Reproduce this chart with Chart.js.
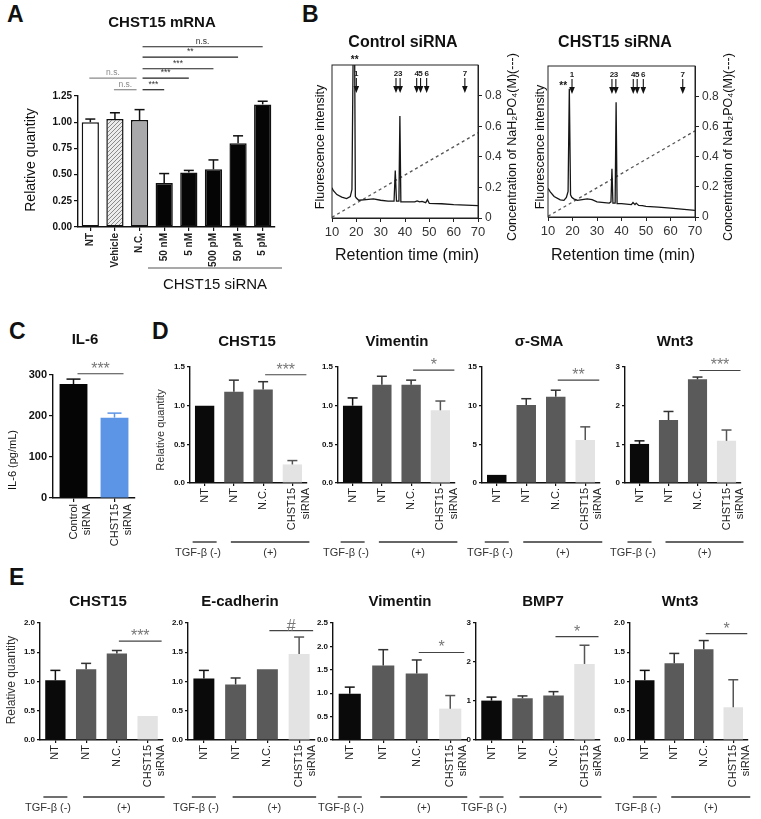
<!DOCTYPE html>
<html>
<head>
<meta charset="utf-8">
<script src="https://cdn.jsdelivr.net/npm/chart.js@4.4.1/dist/chart.umd.min.js"></script>
<style>
  body { margin: 0; background: #fff; width: 761px; height: 819px; position: relative; overflow: hidden; font-family: "Liberation Sans", Arial, sans-serif; }
  canvas { position: absolute; }
  .lt { position: absolute; font-weight: bold; font-size: 23px; color: #111; }
</style>
</head>
<body>
<div class="lt" style="left:7px;top:1px">A</div>
<div class="lt" style="left:302px;top:1px">B</div>
<div class="lt" style="left:9px;top:318px">C</div>
<div class="lt" style="left:152px;top:318px">D</div>
<div class="lt" style="left:9px;top:564px">E</div>
<script>
// ---- panel A : CHST15 mRNA
const aLabels = ['NT', 'Vehicle', 'N.C.', '50 nM', '5 nM', '500 pM', '50 pM', '5 pM'];
const aValues = [1.00, 1.03, 1.02, 0.42, 0.52, 0.55, 0.80, 1.17];
const aErrors = [0.03, 0.06, 0.10, 0.09, 0.02, 0.09, 0.07, 0.03];
const aTicks = [0, 0.25, 0.5, 0.75, 1.0, 1.25];
// [from, to, level, text]
const aBrackets = [[0, 2, 1.42, 'n.s.'], [1, 2, 1.31, 'n.s.'], [2, 3, 1.31, '***'], [2, 4, 1.42, '***'],
                   [2, 5, 1.51, '***'], [2, 6, 1.62, '**'], [2, 7, 1.72, 'n.s.']];

// ---- panel B : chromatograms
const rtTicks = [10, 20, 30, 40, 50, 60, 70];
const concTicks = [0, 0.2, 0.4, 0.6, 0.8];
const ctrlTime = [10, 10.5, 12, 14, 16, 17.5, 18.2, 18.7, 19.3, 19.6, 20, 21, 24, 27, 30, 33, 35.5, 36, 36.5, 37.5, 37.9, 38.3, 40, 44, 45, 46, 47, 48.5, 49.2, 50, 55, 60, 70];
const ctrlSignal = [0.197, 0.18, 0.153, 0.136, 0.127, 0.14, 0.186, 1.1, 1.1, 0.14, 0.13, 0.116, 0.12, 0.125, 0.116, 0.11, 0.11, 0.31, 0.11, 0.11, 0.667, 0.105, 0.105, 0.105, 0.112, 0.105, 0.108, 0.1, 0.12, 0.095, 0.093, 0.087, 0.081];
const siTime = [10, 11, 12.5, 15, 16.5, 17.5, 18.2, 18.7, 19.2, 19.7, 20.5, 22, 26, 28, 30, 35, 35.7, 36.1, 36.5, 37.4, 37.8, 38.2, 40, 44, 44.7, 45.5, 46, 47, 48.5, 50, 55, 60, 70];
const siSignal = [0.19, 0.165, 0.136, 0.114, 0.11, 0.13, 0.17, 0.85, 0.147, 0.13, 0.12, 0.11, 0.12, 0.115, 0.1, 0.092, 0.1, 0.32, 0.092, 0.092, 0.76, 0.088, 0.088, 0.082, 0.096, 0.082, 0.092, 0.077, 0.075, 0.07, 0.066, 0.059, 0.044];
const gradTime = [10, 70];
const ctrlGrad = [0.005, 0.557];
const siGrad = [0.005, 0.57];
const arrowLabels = ['1', '2', '3', '4', '5', '6', '7'];
const ctrlArrows = [20, 36.3, 38, 44.8, 46.4, 48.9, 64.6];
const siArrows = [19.8, 36.1, 37.7, 44.8, 46.4, 48.9, 65];

// ---- panel C : IL-6
const cLabels = [['Control', 'siRNA'], ['CHST15', 'siRNA']];
const cValues = [278, 196];
const cErrors = [12, 11];
const cTicks = [0, 100, 200, 300];

// ---- panels D and E
const grpLabels = ['NT', 'NT', 'N.C.', ['CHST15', 'siRNA']];
const dChst = [1.0, 1.18, 1.21, 0.24], dChstErr = [0, 0.15, 0.10, 0.05];
const dVim = [1.0, 1.27, 1.27, 0.94], dVimErr = [0.10, 0.11, 0.06, 0.12];
const dSma = [1.05, 10.1, 11.15, 5.56], dSmaErr = [0, 0.8, 0.85, 1.7];
const dWnt = [1.01, 1.63, 2.68, 1.09], dWntErr = [0.08, 0.22, 0.06, 0.28];
const eChst = [1.02, 1.21, 1.48, 0.41], eChstErr = [0.17, 0.10, 0.05, 0];
const eEcad = [1.05, 0.95, 1.21, 1.47], eEcadErr = [0.14, 0.11, 0, 0.29];
const eVim = [0.99, 1.59, 1.42, 0.67], eVimErr = [0.14, 0.34, 0.29, 0.28];
const eBmp = [1.01, 1.07, 1.14, 1.95], eBmpErr = [0.09, 0.06, 0.10, 0.48];
const eWnt = [1.02, 1.31, 1.55, 0.56], eWntErr = [0.17, 0.17, 0.15, 0.47];
const ticks15 = [0, 0.5, 1.0, 1.5], ticks15b = [0, 5, 10, 15], ticks3 = [0, 1, 2, 3];
const ticks20 = [0, 0.5, 1.0, 1.5, 2.0], ticks25 = [0, 0.5, 1.0, 1.5, 2.0, 2.5];

const FF = '"Liberation Sans", Arial, sans-serif';
Chart.defaults.font.family = FF;
Chart.defaults.color = '#222';

function addCanvas(plot, m) {
  const cv = document.createElement('canvas');
  cv.width = plot.r - plot.l + m.l + m.r;
  cv.height = plot.b - plot.t + m.t + m.b;
  cv.style.left = (plot.l - m.l) + 'px';
  cv.style.top = (plot.t - m.t) + 'px';
  document.body.appendChild(cv);
  return cv;
}
function noPad(s) { s.paddingLeft = s.paddingRight = s.paddingTop = s.paddingBottom = 0; }
function fixW(w) { return s => { s.width = w; noPad(s); }; }
function fixH(h) { return s => { s.height = h; noPad(s); }; }

function hatch(ctx) {
  const p = document.createElement('canvas');
  p.width = p.height = 4;
  const c = p.getContext('2d');
  c.fillStyle = '#ececec'; c.fillRect(0, 0, 4, 4);
  c.strokeStyle = '#8a8a8a'; c.lineWidth = 1;
  c.beginPath(); c.moveTo(-1, 5); c.lineTo(5, -1); c.stroke();
  return ctx.createPattern(p, 'repeat');
}

function txt(ctx, ox, oy, t) {
  ctx.save();
  ctx.font = t.f;
  ctx.fillStyle = t.c || '#111';
  ctx.textAlign = t.al || 'center';
  ctx.textBaseline = 'middle';
  ctx.translate(t.x - ox, t.y - oy);
  if (t.rot) ctx.rotate(t.rot * Math.PI / 180);
  ctx.fillText(t.t, 0, 0);
  ctx.restore();
}
function seg(ctx, x1, y1, x2, y2) { ctx.beginPath(); ctx.moveTo(x1, y1); ctx.lineTo(x2, y2); ctx.stroke(); }

const decor = {
  id: 'decor',
  afterDatasetsDraw(chart, args, o) {
    const ctx = chart.ctx, xs = chart.scales.x, ys = chart.scales.y, ca = chart.chartArea;
    ctx.save();
    // error bars (upper only)
    (o.errors || []).forEach((e, i) => {
      if (!e) return;
      const v = chart.data.datasets[0].data[i];
      const x = xs.getPixelForValue(i);
      const y0 = ys.getPixelForValue(v), y1 = ys.getPixelForValue(v + e);
      ctx.strokeStyle = o.errColors[i];
      ctx.lineWidth = 1.5;
      seg(ctx, x, y0, x, y1);
      seg(ctx, x - o.cap, y1, x + o.cap, y1);
    });
    // significance brackets
    (o.brackets || []).forEach((b, k) => {
      const x1 = xs.getPixelForValue(b[0]) + o.bStart[k], x2 = xs.getPixelForValue(b[1]) + o.bEnd[k];
      const y = ys.getPixelForValue(b[2]);
      ctx.strokeStyle = o.bColors[k]; ctx.lineWidth = o.bWidth;
      seg(ctx, x1, y, x2, y);
      ctx.font = o.bFont; ctx.fillStyle = o.bTextColors[k];
      ctx.textAlign = 'center'; ctx.textBaseline = 'alphabetic';
      ctx.fillText(b[3], (x1 + x2) / 2, y - o.bGap);
    });
    // TGF-beta groups
    if (o.groups) {
      const g = o.groups;
      const x0 = xs.getPixelForValue(0), x1 = xs.getPixelForValue(1), x3 = xs.getPixelForValue(3);
      const ly = g.lineY - o.oy;
      ctx.strokeStyle = '#333'; ctx.lineWidth = 1.4;
      seg(ctx, x0 - 12, ly, x0 + 12, ly);
      seg(ctx, x1 - 3, ly, x3 + 17, ly);
      txt(ctx, 0, 0, { t: 'TGF-\u03b2 (-)', x: ca.left - 15, y: g.textY - o.oy, f: '11px ' + FF, al: 'left', c: '#333' });
      txt(ctx, 0, 0, { t: '(+)', x: (x1 - 3 + x3 + 17) / 2, y: g.textY - o.oy, f: '11px ' + FF, c: '#333' });
    }
    // chromatogram box and peak arrows
    if (o.box) {
      ctx.strokeStyle = '#222'; ctx.lineWidth = 1;
      ctx.strokeRect(ca.left, ca.top, ca.right - ca.left, ca.bottom - ca.top);
    }
    if (o.arrows) {
      const a = o.arrows;
      a.times.forEach((t, i) => {
        const x = xs.getPixelForValue(t);
        txt(ctx, 0, 0, { t: a.labels[i], x: x, y: ca.top + 9, f: 'bold 8px ' + FF, c: '#222' });
        ctx.strokeStyle = '#111'; ctx.lineWidth = 1.1;
        seg(ctx, x, ca.top + 13, x, ca.top + 24);
        ctx.fillStyle = '#111';
        ctx.beginPath(); ctx.moveTo(x - 2.8, ca.top + 21); ctx.lineTo(x + 2.8, ca.top + 21); ctx.lineTo(x, ca.top + 28); ctx.closePath(); ctx.fill();
      });
      txt(ctx, 0, 0, { t: '**', x: xs.getPixelForValue(a.star), y: ca.top + a.starDy, f: 'bold 10px ' + FF, c: '#111' });
    }
    (o.lines || []).forEach(l => {
      ctx.strokeStyle = l.c; ctx.lineWidth = 1.2;
      seg(ctx, l.x1 - o.ox, l.y - o.oy, l.x2 - o.ox, l.y - o.oy);
    });
    (o.texts || []).forEach(t => txt(ctx, o.ox, o.oy, t));
    ctx.restore();
  }
};

function bars(s) {
  const cv = addCanvas(s.plot, s.m);
  const ctx = cv.getContext('2d');
  const bg = s.colors.map(c => c === 'hatch' ? hatch(ctx) : c);
  const axisGrid = { display: true, drawOnChartArea: false, offset: false, tickLength: s.tickLen || 3, color: '#111', lineWidth: 1.2 };
  const d = s.decor;
  d.ox = s.plot.l - s.m.l; d.oy = s.plot.t - s.m.t;
  return new Chart(cv, {
    type: 'bar',
    data: {
      labels: s.labels,
      datasets: [{ data: s.values, backgroundColor: bg, borderColor: s.border || 'rgba(0,0,0,0)', borderWidth: s.borderWidth || 0, borderSkipped: false, barPercentage: s.barPct, categoryPercentage: 1 }]
    },
    options: {
      responsive: false, animation: false,
      layout: { padding: { top: s.m.t, right: s.m.r, left: 0, bottom: 0 } },
      scales: {
        x: {
          grid: axisGrid, border: { color: '#111', width: 1.4 },
          ticks: { autoSkip: false, minRotation: 90, maxRotation: 90, padding: 2, font: s.xFont, color: '#222' },
          afterFit: fixH(s.m.b)
        },
        y: {
          min: 0, max: s.yMax, grid: axisGrid, border: { color: '#111', width: 1.4 },
          afterBuildTicks: sc => { sc.ticks = s.yTicks.map(v => ({ value: v })); },
          ticks: { padding: 2, font: s.yFont, color: '#111', callback: v => v.toFixed(s.dec) },
          afterFit: fixW(s.m.l)
        }
      },
      plugins: { legend: { display: false }, tooltip: { enabled: false }, decor: d }
    },
    plugins: [decor]
  });
}

function chrom(s) {
  const cv = addCanvas(s.plot, s.m);
  const d = s.decor;
  d.ox = s.plot.l - s.m.l; d.oy = s.plot.t - s.m.t; d.box = true;
  const axGrid = { display: true, drawOnChartArea: false, tickLength: 4, color: '#222', lineWidth: 1 };
  return new Chart(cv, {
    type: 'line',
    data: {
      datasets: [
        { data: s.time.map((t, i) => ({ x: t, y: s.signal[i] })), yAxisID: 'y', borderColor: '#161616', borderWidth: 1.3, pointRadius: 0, tension: 0 },
        { data: gradTime.map((t, i) => ({ x: t, y: s.grad[i] })), yAxisID: 'y2', borderColor: '#555', borderWidth: 1.3, borderDash: [3, 3], pointRadius: 0, tension: 0 }
      ]
    },
    options: {
      responsive: false, animation: false,
      layout: { padding: { top: s.m.t, left: s.m.l, right: 0, bottom: 0 } },
      scales: {
        x: {
          type: 'linear', min: 10, max: 70, grid: axGrid, border: { color: '#222' },
          afterBuildTicks: sc => { sc.ticks = rtTicks.map(v => ({ value: v })); },
          ticks: { font: { size: 13 }, color: '#333', padding: 3 },
          afterFit: fixH(s.m.b)
        },
        y: { display: false, min: 0, max: 1 },
        y2: {
          position: 'right', min: 0, max: 1, grid: axGrid, border: { color: '#222' },
          afterBuildTicks: sc => { sc.ticks = concTicks.map(v => ({ value: v })); },
          ticks: { font: { size: 12 }, color: '#333', padding: 3, callback: v => v === 0 ? '0' : v.toFixed(1) },
          afterFit: fixW(s.m.r)
        }
      },
      plugins: { legend: { display: false }, tooltip: { enabled: false }, decor: d }
    },
    plugins: [decor]
  });
}

const B = w => 'bold ' + w + 'px ' + FF;
const N = w => w + 'px ' + FF;

// ---------- A
bars({
  plot: { l: 78, t: 96, r: 275, b: 227 }, m: { l: 78, t: 96, r: 12, b: 72 },
  labels: aLabels, values: aValues, yMax: 1.25, yTicks: aTicks, dec: 2,
  colors: ['#ffffff', 'hatch', '#a9a9ab', '#050505', '#050505', '#050505', '#050505', '#050505'],
  border: '#111', borderWidth: 1.5, barPct: 0.7, tickLen: 4,
  xFont: { size: 10, weight: 'bold' }, yFont: { size: 10, weight: 'bold' },
  decor: {
    errors: aErrors, errColors: aErrors.map(() => '#111'), cap: 5,
    brackets: aBrackets, bStart: [-1, -1, 3, 3, 3, 3, 3], bEnd: [-3, -3, 0, 0, 0, 0, 0],
    bColors: ['#8a8a8a', '#8a8a8a', '#222', '#222', '#222', '#222', '#222'],
    bTextColors: ['#8a8a8a', '#8a8a8a', '#333', '#333', '#333', '#333', '#333'],
    bFont: N(8.5), bWidth: 1.2, bGap: 3,
    lines: [{ x1: 148, x2: 282, y: 268, c: '#555' }],
    texts: [
      { t: 'CHST15 mRNA', x: 162, y: 23, f: B(15) },
      { t: 'Relative quantity', x: 31, y: 160, f: N(14), rot: -90 },
      { t: 'CHST15 siRNA', x: 215, y: 285, f: N(15) }
    ]
  }
});

// ---------- B
chrom({
  plot: { l: 332, t: 65, r: 478, b: 218 }, m: { l: 32, t: 40, r: 52, b: 50 },
  time: ctrlTime, signal: ctrlSignal, grad: ctrlGrad,
  decor: {
    arrows: { times: ctrlArrows, labels: arrowLabels, star: 19.3, starDy: -5 },
    texts: [
      { t: 'Control siRNA', x: 403, y: 43, f: B(16) },
      { t: 'Fluorescence intensity', x: 321, y: 147, f: N(12.5), rot: -90 },
      { t: 'Concentration of NaH\u2082PO\u2084(M)(---)', x: 513, y: 147, f: N(12.5), rot: -90 },
      { t: 'Retention time (min)', x: 407, y: 256, f: N(16) }
    ]
  }
});
chrom({
  plot: { l: 548, t: 66, r: 695, b: 217 }, m: { l: 32, t: 41, r: 50, b: 51 },
  time: siTime, signal: siSignal, grad: siGrad,
  decor: {
    arrows: { times: siArrows, labels: arrowLabels, star: 16.2, starDy: 20 },
    texts: [
      { t: 'CHST15 siRNA', x: 615, y: 43, f: B(16) },
      { t: 'Fluorescence intensity', x: 541, y: 147, f: N(12.5), rot: -90 },
      { t: 'Concentration of NaH\u2082PO\u2084(M)(---)', x: 729, y: 147, f: N(12.5), rot: -90 },
      { t: 'Retention time (min)', x: 623, y: 256, f: N(16) }
    ]
  }
});

// ---------- C
bars({
  plot: { l: 53, t: 375, r: 135, b: 498 }, m: { l: 53, t: 50, r: 8, b: 57 },
  labels: cLabels, values: cValues, yMax: 300, yTicks: cTicks, dec: 0,
  colors: ['#050505', '#5d95e6'], barPct: 0.68, tickLen: 4,
  xFont: { size: 11 }, yFont: { size: 11, weight: 'bold' },
  decor: {
    errors: cErrors, errColors: ['#111', '#5d95e6'], cap: 7,
    brackets: [[0, 1, 303, '***']], bStart: [4], bEnd: [9], bColors: ['#444'], bTextColors: ['#777'],
    bFont: N(16), bWidth: 1.2, bGap: 0,
    texts: [
      { t: 'IL-6', x: 85, y: 340, f: B(15) },
      { t: 'IL-6 (pg/mL)', x: 13, y: 460, f: N(11), rot: -90 }
    ]
  }
});

// ---------- D and E
const grpColors = ['#0a0a0a', '#5a5a5a', '#5a5a5a', '#e3e3e3'];
const grpErrColors = ['#111', '#333', '#333', '#555'];
function grp(p, m, values, errors, yMax, yTicks, dec, brk, title, extra, groups) {
  return bars({
    plot: p, m: m, labels: grpLabels, values: values, yMax: yMax, yTicks: yTicks, dec: dec,
    colors: grpColors, barPct: 0.66, tickLen: 3,
    xFont: { size: 11 }, yFont: { size: 8, weight: 'bold' },
    decor: {
      errors: errors, errColors: grpErrColors, cap: 5,
      brackets: [brk], bStart: [2], bEnd: [14], bColors: ['#444'], bTextColors: ['#777'],
      bFont: N(16), bWidth: 1.2, bGap: 0,
      groups: groups,
      texts: [title].concat(extra)
    }
  });
}
const dM = { l: 36, t: 45, r: 12, b: 80 }, dG = { lineY: 542, textY: 553 };
grp({ l: 190, t: 367, r: 307, b: 483 }, dM, dChst, dChstErr, 1.5, ticks15, 1, [2, 3, 1.40, '***'],
  { t: 'CHST15', x: 247, y: 342, f: B(15) }, [{ t: 'Relative quantity', x: 161, y: 430, f: N(11), rot: -90, c: '#333' }], dG);
grp({ l: 338, t: 367, r: 455, b: 483 }, dM, dVim, dVimErr, 1.5, ticks15, 1, [2, 3, 1.46, '*'],
  { t: 'Vimentin', x: 397, y: 342, f: B(15) }, [], dG);
grp({ l: 482, t: 367, r: 600, b: 483 }, dM, dSma, dSmaErr, 15, ticks15b, 0, [2, 3, 13.3, '**'],
  { t: '\u03c3-SMA', x: 539, y: 342, f: B(15) }, [], dG);
grp({ l: 625, t: 367, r: 741, b: 483 }, { l: 36, t: 45, r: 18, b: 80 }, dWnt, dWntErr, 3, ticks3, 0, [2, 3, 2.91, '***'],
  { t: 'Wnt3', x: 675, y: 342, f: B(15) }, [], dG);

const eM = { l: 28, t: 45, r: 10, b: 79 }, eG = { lineY: 797, textY: 808 };
grp({ l: 40, t: 623, r: 163, b: 740 }, { l: 40, t: 45, r: 10, b: 79 }, eChst, eChstErr, 2.0, ticks20, 1, [2, 3, 1.69, '***'],
  { t: 'CHST15', x: 98, y: 602, f: B(15) }, [{ t: 'Relative quantity', x: 12, y: 680, f: N(12), rot: -90, c: '#333' }], eG);
grp({ l: 188, t: 623, r: 315, b: 740 }, eM, eEcad, eEcadErr, 2.0, ticks20, 1, [2, 3, 1.87, '#'],
  { t: 'E-cadherin', x: 240, y: 602, f: B(15) }, [], eG);
grp({ l: 333, t: 623, r: 467, b: 740 }, eM, eVim, eVimErr, 2.5, ticks25, 1, [2, 3, 1.87, '*'],
  { t: 'Vimentin', x: 400, y: 602, f: B(15) }, [], eG);
grp({ l: 476, t: 623, r: 600, b: 740 }, eM, eBmp, eBmpErr, 3, ticks3, 0, [2, 3, 2.65, '*'],
  { t: 'BMP7', x: 543, y: 602, f: B(15) }, [], eG);
grp({ l: 630, t: 623, r: 748, b: 740 }, { l: 28, t: 45, r: 12, b: 79 }, eWnt, eWntErr, 2.0, ticks20, 1, [2, 3, 1.82, '*'],
  { t: 'Wnt3', x: 680, y: 602, f: B(15) }, [], eG);
</script>
</body>
</html>
